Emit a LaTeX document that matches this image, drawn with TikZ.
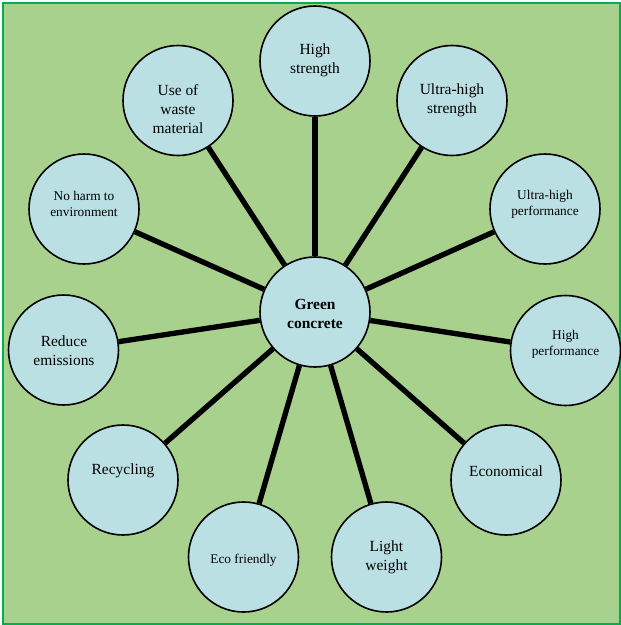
\documentclass[tikz,border=0pt]{standalone}
\usepackage{fontspec}
\setmainfont{Liberation Serif}
\usepackage{xcolor}
\usepackage{tikz}
\usetikzlibrary{positioning}

\definecolor{bggreen}{RGB}{169,209,142}
\definecolor{framegreen}{RGB}{0,176,80}
\definecolor{bubblefill}{RGB}{186,224,227}

\begin{document}
\begin{tikzpicture}[
        x=0.75pt, y=-0.75pt,
        bubble/.style={circle, draw, line width=1.2pt, fill=bubblefill, minimum size=82.5pt, inner sep=0pt},
        big/.style={align=center, font=\fontsize{11.6pt}{14.2pt}\selectfont},
        small/.style={align=center, font=\fontsize{10pt}{12pt}\selectfont},
        spoke/.style={line width=4pt}
    ]
        \useasboundingbox (0,0) rectangle (621,625);
        % Frame
        \draw[framegreen, line width=1.5pt, fill=bggreen] (3,3) rectangle (620,623.5);

        % Centre
        \node[bubble] (gc) at (315,312) {};
        \node[big, font=\fontsize{11.6pt}{14.2pt}\selectfont\bfseries] (gc-t) at (315,314) {Green\\concrete};

        % Upper half
        \node[bubble] (hs) at (315,61) {};
        \node[big] (hs-t) at (315,60) {High\\strength};
        \node[bubble] (uhs) at (452,100.5) {};
        \node[big] (uhs-t) at (452,100.5) {Ultra-high\\strength};
        \node[bubble] (uwm) at (178,100.5) {};
        \node[big] (uwm-t) at (178,109) {Use of\\waste\\material};
        \node[bubble] (nh) at (84,209) {};
        \node[small] (nh-t) at (84,204) {No harm to\\environment};
        \node[bubble] (uhp) at (545,209) {};
        \node[small] (uhp-t) at (545,204) {Ultra-high\\performance};

        % Sides
        \node[bubble] (re) at (63.5,350) {};
        \node[big] (re-t) at (64,350.5) {Reduce\\emissions};
        \node[bubble] (hp) at (565.5,350.5) {};
        \node[small] (hp-t) at (565.5,344.5) {High\\performance};

        % Lower half
        \node[bubble] (rec) at (123,480) {};
        \node[big] (rec-t) at (123,471) {Recycling};
        \node[bubble] (eco) at (506,480) {};
        \node[big] (eco-t) at (506,471) {Economical};
        \node[bubble] (ef) at (243.5,557) {};
        \node[small] (ef-t) at (243.5,560) {Eco friendly};
        \node[bubble] (lw) at (386.5,557) {};
        \node[big] (lw-t) at (386.5,557.5) {Light\\weight};

        % Spokes
        \draw[spoke] (gc) -- (hs);
        \draw[spoke] (gc) -- (uhs);
        \draw[spoke] (gc) -- (uwm);
        \draw[spoke] (gc) -- (nh);
        \draw[spoke] (gc) -- (uhp);
        \draw[spoke] (gc) -- (re);
        \draw[spoke] (gc) -- (hp);
        \draw[spoke] (gc) -- (rec);
        \draw[spoke] (gc) -- (eco);
        \draw[spoke] (gc) -- (ef);
        \draw[spoke] (gc) -- (lw);
    \end{tikzpicture}
\end{document}
